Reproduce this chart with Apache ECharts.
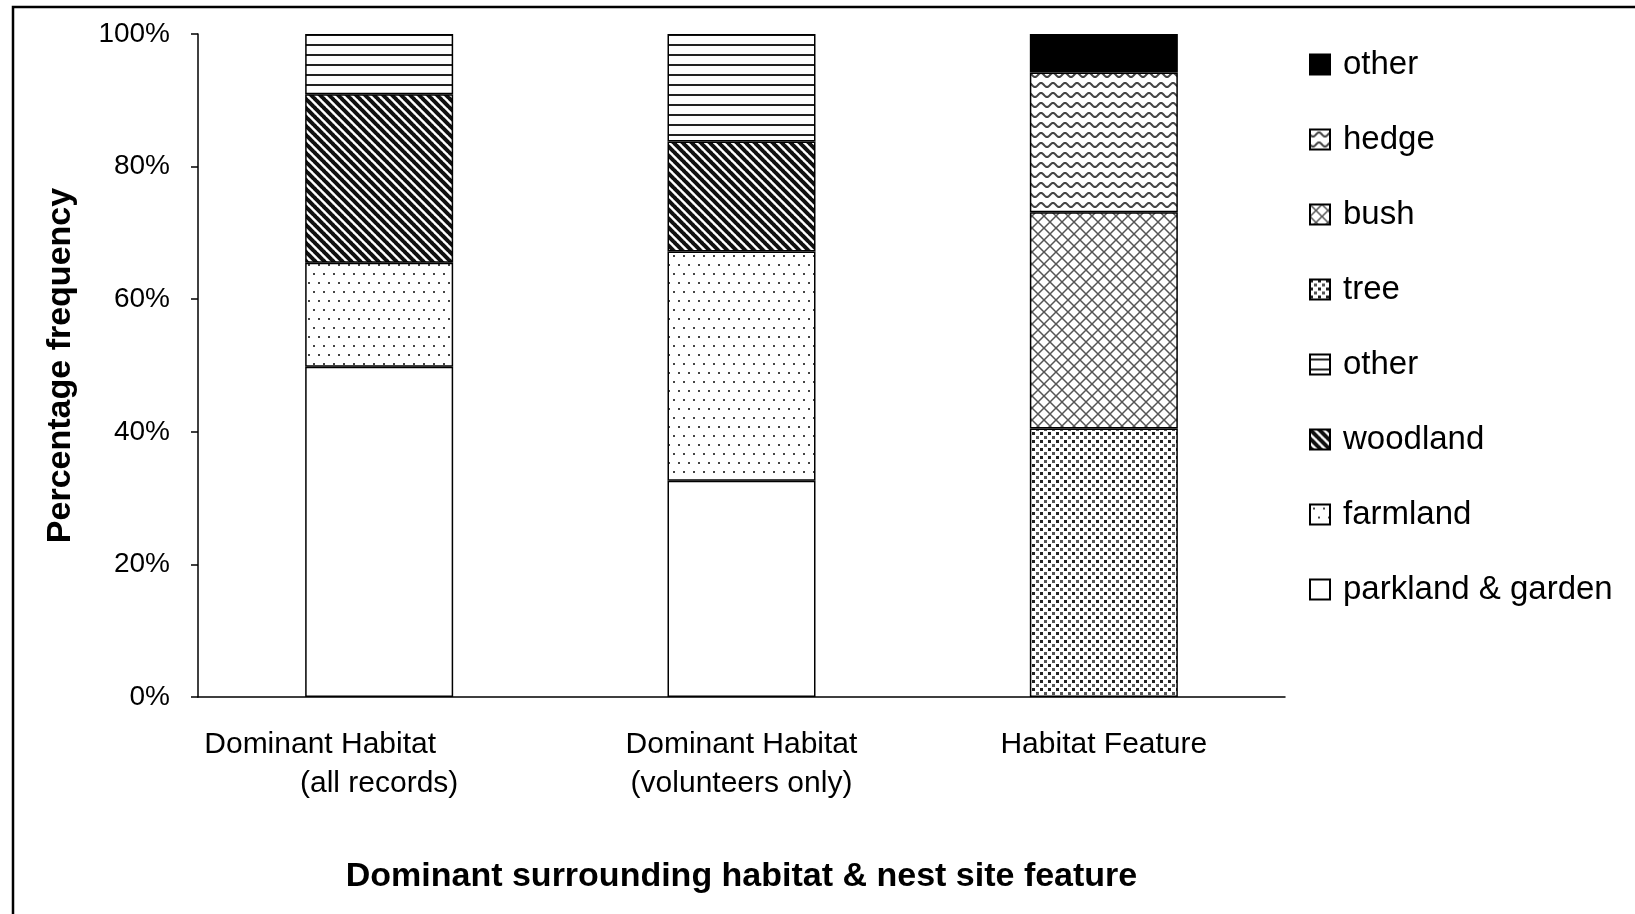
<!DOCTYPE html>
<html>
<head>
<meta charset="UTF-8">
<title>Habitat chart</title>
<script src="https://cdn.jsdelivr.net/npm/echarts@6/dist/echarts.min.js"></script>
<style>
  html, body { margin: 0; padding: 0; background: #fff; }
</style>
</head>
<body>
	<div id="main" style="width: 1635px; height: 914px;"></div>

	<script type="text/javascript">
		// data (percent of each column)
		var categories = ['Dominant Habitat\n(all records)', 'Dominant Habitat\n(volunteers only)', 'Habitat Feature'];
		var parkland = [49.8, 32.6, null];
		var farmland = [15.7, 34.6, null];
		var woodland = [25.4, 16.6, null];
		var otherHabitat = [9.1, 16.2, null];
		var tree = [null, null, 40.5];
		var bush = [null, null, 32.6];
		var hedge = [null, null, 21.1];
		var otherFeature = [null, null, 5.8];
		var yTicks = [0, 20, 40, 60, 80, 100];

		var FONT = "'Liberation Sans', Arial, sans-serif";

		// small canvas tiles used as fill patterns
		function tile(w, h, draw) {
			var c = document.createElement('canvas');
			c.width = w; c.height = h;
			var ctx = c.getContext('2d');
			ctx.fillStyle = '#fff';
			ctx.fillRect(0, 0, w, h);
			draw(ctx, w, h);
			return { image: c, repeat: 'repeat' };
		}

		var patHLines = tile(10, 10, function (ctx) {
			ctx.fillStyle = '#222';
			ctx.fillRect(0, 4, 10, 2);
		});
		var patDiag = tile(9, 9, function (ctx) {
			ctx.strokeStyle = '#111';
			ctx.lineWidth = 4;
			[-9, 0, 9].forEach(function (o) {
				ctx.beginPath();
				ctx.moveTo(o - 1, -1);
				ctx.lineTo(o + 10, 10);
				ctx.stroke();
			});
		});
		var patDots = tile(20, 18, function (ctx) {
			ctx.fillStyle = '#444';
			[[3, 3], [13, 3], [8, 12], [18, 12]].forEach(function (p) {
				ctx.fillRect(p[0], p[1], 2, 2);
			});
		});
		var patTree = tile(8, 8, function (ctx) {
			ctx.fillStyle = '#222';
			ctx.fillRect(0, 0, 3, 3);
			ctx.fillStyle = '#555';
			ctx.fillRect(4, 4, 3, 3);
		});
		var patBush = tile(12, 12, function (ctx) {
			ctx.strokeStyle = '#555';
			ctx.lineWidth = 1.5;
			ctx.beginPath();
			ctx.moveTo(0, 0); ctx.lineTo(12, 12);
			ctx.moveTo(12, 0); ctx.lineTo(0, 12);
			ctx.stroke();
		});
		var patHedge = tile(12, 10, function (ctx) {
			ctx.strokeStyle = '#444';
			ctx.lineWidth = 2;
			ctx.beginPath();
			for (var x = -1; x <= 13; x += 0.5) {
				var y = 5 + 2 * Math.sin(2 * Math.PI * x / 12);
				if (x === -1) ctx.moveTo(x, y); else ctx.lineTo(x, y);
			}
			ctx.stroke();
		});

		var border = { borderColor: '#000', borderWidth: 1.5 };
		function bar(name, data, color) {
			return {
				name: name,
				type: 'bar',
				stack: 'total',
				barWidth: 148,
				data: data,
				itemStyle: Object.assign({ color: color }, border)
			};
		}

		var myChart = echarts.init(document.getElementById('main'));
		myChart.setOption({
			backgroundColor: '#fff',
			animation: false,
			graphic: [{
				type: 'rect',
				shape: { x: 13, y: 7, width: 1700, height: 1000 },
				style: { fill: 'none', stroke: '#000', lineWidth: 2.5 }
			}],
			grid: { left: 198, top: 34, right: 350, bottom: 217 },
			legend: {
				orient: 'vertical',
				left: 1304,
				top: 43,
				icon: 'rect',
				itemWidth: 20,
				itemHeight: 20,
				itemGap: 42,
				data: ['other (feature)', 'hedge', 'bush', 'tree', 'other (habitat)', 'woodland', 'farmland', 'parkland & garden'],
				formatter: function (name) {
					return name.indexOf('other') === 0 ? 'other' : name;
				},
				textStyle: { fontFamily: FONT, fontSize: 33, color: '#000', lineHeight: 24, padding: [0, 0, 0, 8] }
			},
			xAxis: {
				type: 'category',
				data: categories,
				name: 'Dominant surrounding habitat & nest site feature',
				nameLocation: 'middle',
				nameGap: 163,
				nameTextStyle: { fontFamily: FONT, fontSize: 34, fontWeight: 'bold', color: '#000' },
				axisLine: { lineStyle: { color: '#000', width: 1.5 } },
				axisTick: { length: 12, lineStyle: { color: '#000', width: 1.5 } },
				axisLabel: {
					margin: 28,
					fontFamily: FONT,
					fontSize: 30,
					lineHeight: 39,
					color: '#000',
					formatter: function (v, i) {
						var parts = v.split('\n');
						if (i === 0) return '{s|' + parts[0] + '}\n' + parts[1];
						return v;
					},
					rich: { s: { padding: [0, 118, 0, 0], fontSize: 30, fontFamily: FONT, lineHeight: 39 } }
				}
			},
			yAxis: {
				type: 'value',
				min: yTicks[0],
				max: yTicks[yTicks.length - 1],
				interval: 20,
				name: 'Percentage frequency',
				nameLocation: 'middle',
				nameRotate: 90,
				nameGap: 120,
				nameTextStyle: { fontFamily: FONT, fontSize: 34, fontWeight: 'bold', color: '#000' },
				axisLine: { show: true, lineStyle: { color: '#000', width: 1.5 } },
				axisTick: { show: true, length: 7, lineStyle: { color: '#000', width: 1.5 } },
				splitLine: { show: false },
				axisLabel: { margin: 28, fontFamily: FONT, fontSize: 28, color: '#000', formatter: '{value}%' }
			},
			series: [
				bar('parkland & garden', parkland, '#fff'),
				bar('farmland', farmland, patDots),
				bar('woodland', woodland, patDiag),
				bar('other (habitat)', otherHabitat, patHLines),
				bar('tree', tree, patTree),
				bar('bush', bush, patBush),
				bar('hedge', hedge, patHedge),
				bar('other (feature)', otherFeature, '#000')
			]
		});
	</script>
</body>
</html>
